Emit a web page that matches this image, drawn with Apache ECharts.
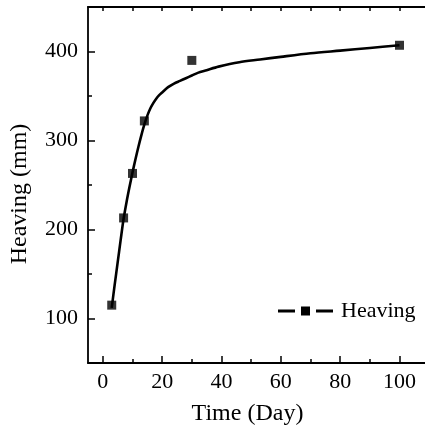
<!DOCTYPE html>
<html><head><meta charset="utf-8">
<script src="https://cdn.jsdelivr.net/npm/echarts@6/dist/echarts.min.js"></script>
<style>html,body{margin:0;padding:0;background:#fff}#c{width:425px;height:435px}</style>
</head><body><div id="c"></div>
<script>
// measured points
const days = [3, 7, 10, 14, 30, 100];
const heaving = [115, 213, 263, 322, 390, 407];
// fitted curve
const fitDays = [3, 4, 5, 6, 7, 8, 9, 10, 11, 12, 13, 14, 15, 16, 17, 18, 19, 20, 22, 24, 26, 28, 30, 32, 35, 39, 46, 53, 60, 70, 80, 90, 100];
const fitHeaving = [112, 138, 163, 188, 212, 231, 248, 264, 279, 293, 306, 318, 328, 336, 342, 347, 351, 354, 360, 364, 367, 370, 373, 376, 379, 383, 388, 391, 394, 398, 401, 404, 407];
// tick labels / ticks
const xMajorTicks = [0, 20, 40, 60, 80, 100];
const xMinorTicks = [0, 10, 20, 30, 40, 50, 60, 70, 80, 90, 100];
const yMajorTicks = [100, 200, 300, 400];
const yMinorTicks = [50, 100, 150, 200, 250, 300, 350, 400, 450];

const FONT = '"Liberation Serif", "Times New Roman", serif';
const chart = echarts.init(document.getElementById('c'), null, {renderer: 'canvas'});

function xAxisBase(extra) {
  return Object.assign({
    type: 'value', min: -5, max: 108.6,
    splitLine: {show: false},
    axisLine: {show: false, onZero: false, lineStyle: {color: '#000', width: 1.8}},
    axisTick: {show: false},
    axisLabel: {show: false}
  }, extra);
}
function yAxisBase(extra) {
  return Object.assign({
    type: 'value', min: 50, max: 450,
    splitLine: {show: false},
    axisLine: {show: false, onZero: false, lineStyle: {color: '#000', width: 1.8}},
    axisTick: {show: false},
    axisLabel: {show: false}
  }, extra);
}

const option = {
  animation: false,
  backgroundColor: '#fff',
  grid: {left: 88, top: 7, right: 0, bottom: 72, containLabel: false},
  xAxis: [
    xAxisBase({
      position: 'bottom',
      axisLine: {show: true, onZero: false, lineStyle: {color: '#000', width: 1.8}},
      axisTick: {show: true, inside: true, length: 7, customValues: xMajorTicks, lineStyle: {color: '#000', width: 1.5}},
      axisLabel: {show: true, customValues: xMajorTicks, margin: 8, color: '#000', fontSize: 22, fontFamily: FONT},
      name: 'Time (Day)', nameLocation: 'middle', nameGap: 39,
      nameTextStyle: {color: '#000', fontSize: 24, fontFamily: FONT, padding: [0, 18, 0, 0]}
    }),
    xAxisBase({
      position: 'bottom',
      axisTick: {show: true, inside: true, length: 4, customValues: xMinorTicks, lineStyle: {color: '#000', width: 1.5}}
    }),
    xAxisBase({
      position: 'top',
      axisLine: {show: true, onZero: false, lineStyle: {color: '#000', width: 1.8}},
      axisTick: {show: true, inside: true, length: 4, customValues: xMinorTicks, lineStyle: {color: '#000', width: 1.5}}
    })
  ],
  yAxis: [
    yAxisBase({
      position: 'left',
      axisLine: {show: true, onZero: false, lineStyle: {color: '#000', width: 1.8}},
      axisTick: {show: true, inside: true, length: 7, customValues: yMajorTicks, lineStyle: {color: '#000', width: 1.5}},
      axisLabel: {show: true, customValues: yMajorTicks, margin: 10, color: '#000', fontSize: 22, fontFamily: FONT},
      name: 'Heaving (mm)', nameLocation: 'middle', nameGap: 56,
      nameTextStyle: {color: '#000', fontSize: 24, fontFamily: FONT, padding: [0, 18, 0, 0]}
    }),
    yAxisBase({
      position: 'left',
      axisTick: {show: true, inside: true, length: 4, customValues: yMinorTicks, lineStyle: {color: '#000', width: 1.5}}
    })
  ],
  legend: {
    left: 278, top: 300, padding: 0,
    data: [{name: 'Heaving', icon: 'path://M0,3h17v3h-17z M23,0h9v9h-9z M38,3h17v3h-17z'}],
    itemWidth: 55, itemHeight: 9,
    textStyle: {color: '#000', fontSize: 22, fontFamily: FONT, padding: [0, 0, 0, 3]}
  },
  series: [
    {
      name: 'Heaving', type: 'line', xAxisIndex: 0, yAxisIndex: 0,
      data: fitDays.map((d, i) => [d, fitHeaving[i]]),
      smooth: 0.3, showSymbol: false, symbol: 'rect',
      lineStyle: {color: '#000', width: 2.6}, itemStyle: {color: '#000'},
      z: 3
    },
    {
      name: 'Measured', type: 'scatter', xAxisIndex: 0, yAxisIndex: 0,
      data: days.map((d, i) => [d, heaving[i]]),
      symbol: 'rect', symbolSize: 9,
      itemStyle: {color: '#000'}, z: 4
    }
  ]
};
chart.setOption(option);
</script>
</body></html>
